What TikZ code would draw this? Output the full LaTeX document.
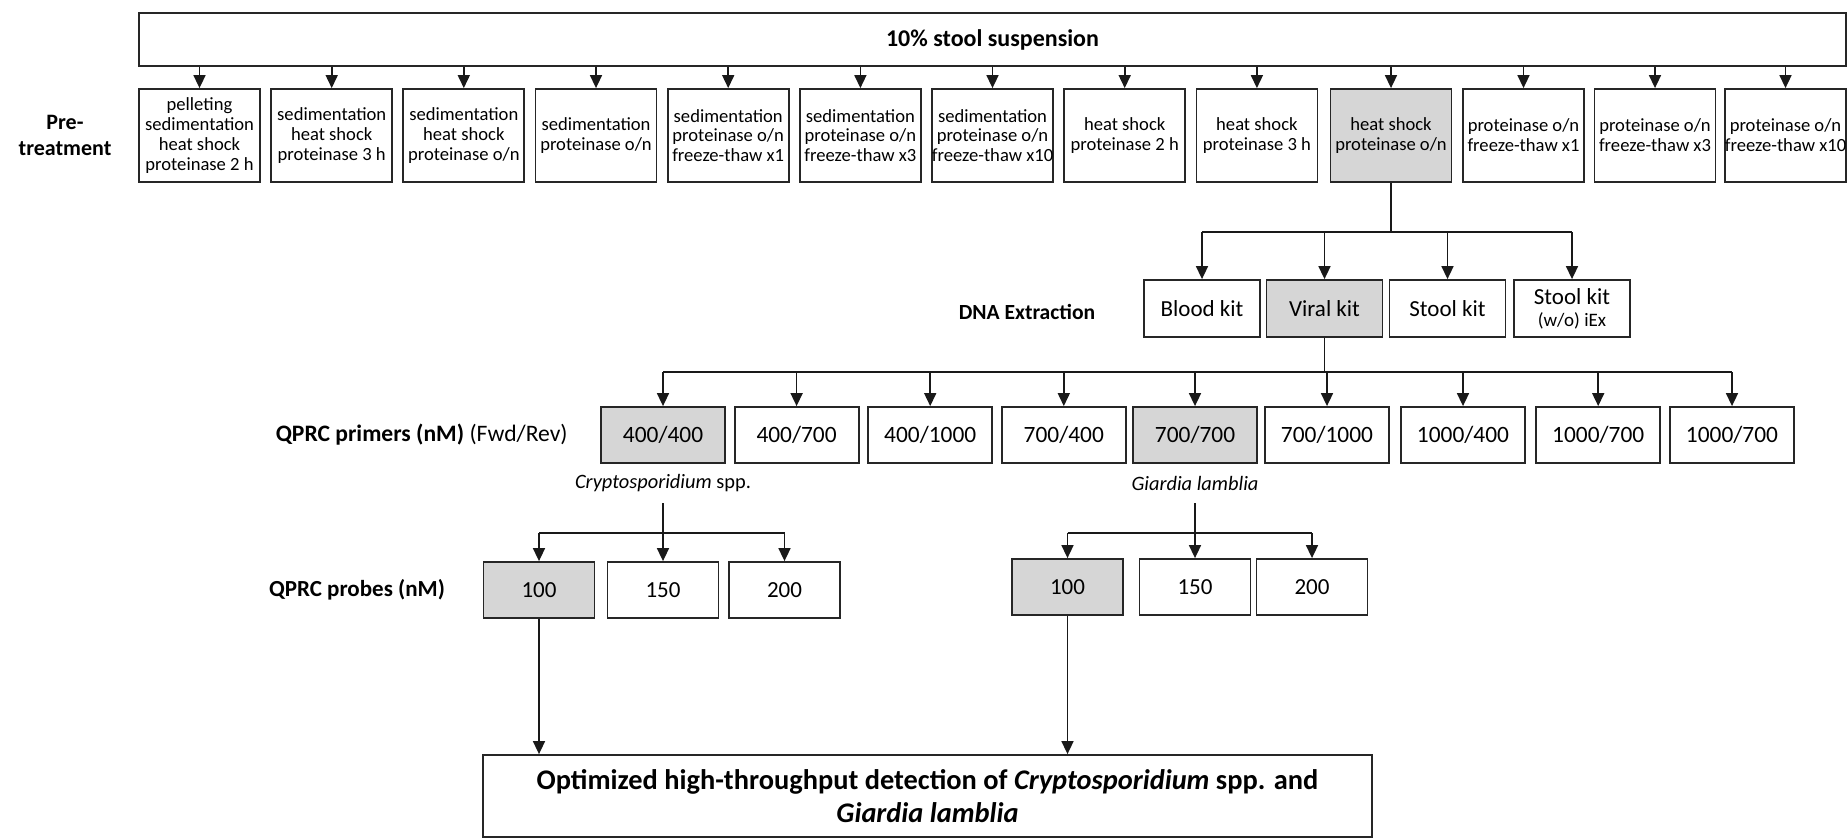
\documentclass[tikz,border=0pt]{standalone}
\usepackage{fontspec}
\setmainfont{Carlito}
\usetikzlibrary{arrows.meta}
\begin{document}
\begin{tikzpicture}[x=0.5pt,y=-0.5pt,
  box/.style={draw=black!85, line width=0.9pt, fill=white, inner sep=0pt, align=center},
  sel/.style={fill=black!16},
  pbox/.style={box, minimum width=60.5pt, minimum height=46.5pt, font={\fontsize{9.3pt}{9.9pt}\selectfont}},
  dbox/.style={box, minimum width=58pt, minimum height=28.5pt, font={\fontsize{11.5pt}{12pt}\selectfont}},
  qbox/.style={box, minimum width=62pt, minimum height=28pt, font={\fontsize{11.7pt}{12pt}\selectfont}},
  rbox/.style={box, minimum width=55.5pt, minimum height=28pt, font={\fontsize{11.5pt}{12pt}\selectfont}},
  lab/.style={font={\fontsize{11.5pt}{13pt}\selectfont\bfseries}, align=center, inner sep=0pt},
  arr/.style={-{Triangle[length=6.5pt,width=6pt]}, line width=0.8pt, draw=black!90},
  ln/.style={line width=0.8pt, draw=black!90},
]
\useasboundingbox (0,0) rectangle (1847,837);

% top box
\node[box, minimum width=853.5pt, minimum height=26.5pt, font={\fontsize{12pt}{14pt}\selectfont\bfseries}] (top) at (992.5,39.5) {10\% stool suspension};

% pre-treatment label
\node[lab, font={\fontsize{11pt}{13pt}\selectfont\bfseries}] (prelab) at (65,135) {Pre-\\treatment};

% pre-treatment boxes
\node[pbox] (p1) at (199.5,135.5) {pelleting\\sedimentation\\heat shock\\proteinase 2 h};
\node[pbox] (p2) at (331.7,135.5) {sedimentation\\heat shock\\proteinase 3 h};
\node[pbox] (p3) at (463.8,135.5) {sedimentation\\heat shock\\proteinase o/n};
\node[pbox] (p4) at (596.0,135.5) {sedimentation\\proteinase o/n};
\node[pbox] (p5) at (728.2,135.5) {sedimentation\\proteinase o/n\\freeze-thaw x1};
\node[pbox] (p6) at (860.4,135.5) {sedimentation\\proteinase o/n\\freeze-thaw x3};
\node[pbox] (p7) at (992.5,135.5) {sedimentation\\proteinase o/n\\freeze-thaw x10};
\node[pbox] (p8) at (1124.7,135.5) {heat shock\\proteinase 2 h};
\node[pbox] (p9) at (1256.9,135.5) {heat shock\\proteinase 3 h};
\node[pbox, sel] (p10) at (1391,135.5) {heat shock\\proteinase o/n};
\node[pbox] (p11) at (1523.5,135.5) {proteinase o/n\\freeze-thaw x1};
\node[pbox] (p12) at (1655,135.5) {proteinase o/n\\freeze-thaw x3};
\node[pbox] (p13) at (1785.5,135.5) {proteinase o/n\\freeze-thaw x10};

\foreach \i in {1,...,13} {
  \draw[arr] (p\i.north |- top.south) -- (p\i.north);
}

% DNA extraction
\node[lab, font={\fontsize{10.8pt}{13pt}\selectfont\bfseries}] (dnalab) at (1027,312) {DNA Extraction};
\node[dbox] (d1) at (1202,308.5) {Blood kit};
\node[dbox, sel] (d2) at (1324.5,308.5) {Viral kit};
\node[dbox] (d3) at (1447.5,308.5) {Stool kit};
\node[dbox] (d4) at (1572,308.5) {Stool kit\\[-1pt]{\fontsize{9.5pt}{10pt}\selectfont (w/o) iEx}};

\coordinate (jd) at (1391,232);
\draw[ln, line width=1.1pt] (p10.south) -- (jd);
\draw[ln] (d1.north |- jd) -- (d4.north |- jd);
\foreach \i in {1,...,4} {
  \draw[arr] (d\i.north |- jd) -- (d\i.north);
}

% primers
\node[inner sep=0pt, anchor=east] (qlab) at (568,435) {{\fontsize{11.8pt}{13pt}\selectfont\textbf{QPRC primers (nM)} (Fwd/Rev)}};
\node[qbox, sel] (q1) at (663,435) {400/400};
\node[qbox] (q2) at (796.6,435) {400/700};
\node[qbox] (q3) at (930.2,435) {400/1000};
\node[qbox] (q4) at (1063.8,435) {700/400};
\node[qbox, sel] (q5) at (1195,435) {700/700};
\node[qbox] (q6) at (1327,435) {700/1000};
\node[qbox] (q7) at (1463,435) {1000/400};
\node[qbox] (q8) at (1598.2,435) {1000/700};
\node[qbox] (q9) at (1732,435) {1000/700};

\coordinate (jq) at (1327,372);
\draw[ln] (d2.south) -- (d2.south |- jq);
\draw[ln] (q1.north |- jq) -- (q9.north |- jq);
\foreach \i in {1,...,9} {
  \draw[arr] (q\i.north |- jq) -- (q\i.north);
}

% species labels
\node[inner sep=0pt, font={\fontsize{10.2pt}{12pt}\selectfont}] (cl) at (663,483) {\textit{Cryptosporidium} spp.};
\node[inner sep=0pt, font={\fontsize{10.2pt}{12pt}\selectfont\itshape}] (gl) at (1195,483) {Giardia lamblia};

% probes
\node[lab] (rlab) at (357,590) {QPRC probes (nM)};
\node[rbox, sel] (r1) at (539,590) {100};
\node[rbox] (r2) at (663,590) {150};
\node[rbox] (r3) at (784.5,590) {200};
\node[rbox, sel] (s1) at (1067.5,587) {100};
\node[rbox] (s2) at (1195,587) {150};
\node[rbox] (s3) at (1312,587) {200};

\coordinate (jc) at (663,533);
\coordinate (jg) at (1195,533);
\draw[ln] (663,503) -- (jc);
\draw[ln] (1195,503) -- (jg);
\draw[ln] (r1.north |- jc) -- (r3.north |- jc);
\draw[ln] (s1.north |- jg) -- (s3.north |- jg);
\foreach \i in {1,2,3} {
  \draw[arr] (r\i.north |- jc) -- (r\i.north);
  \draw[arr] (s\i.north |- jg) -- (s\i.north);
}

% final
\node[box, minimum width=444.5pt, minimum height=41pt, font={\fontsize{14.2pt}{16.5pt}\selectfont\bfseries}] (fin) at (927.5,796) {Optimized high-throughput detection of \textit{Cryptosporidium} spp. and\\\textit{Giardia lamblia}};

\draw[arr] (r1.south) -- (r1.south |- fin.north);
\draw[arr] (s1.south) -- (s1.south |- fin.north);
\end{tikzpicture}
\end{document}
